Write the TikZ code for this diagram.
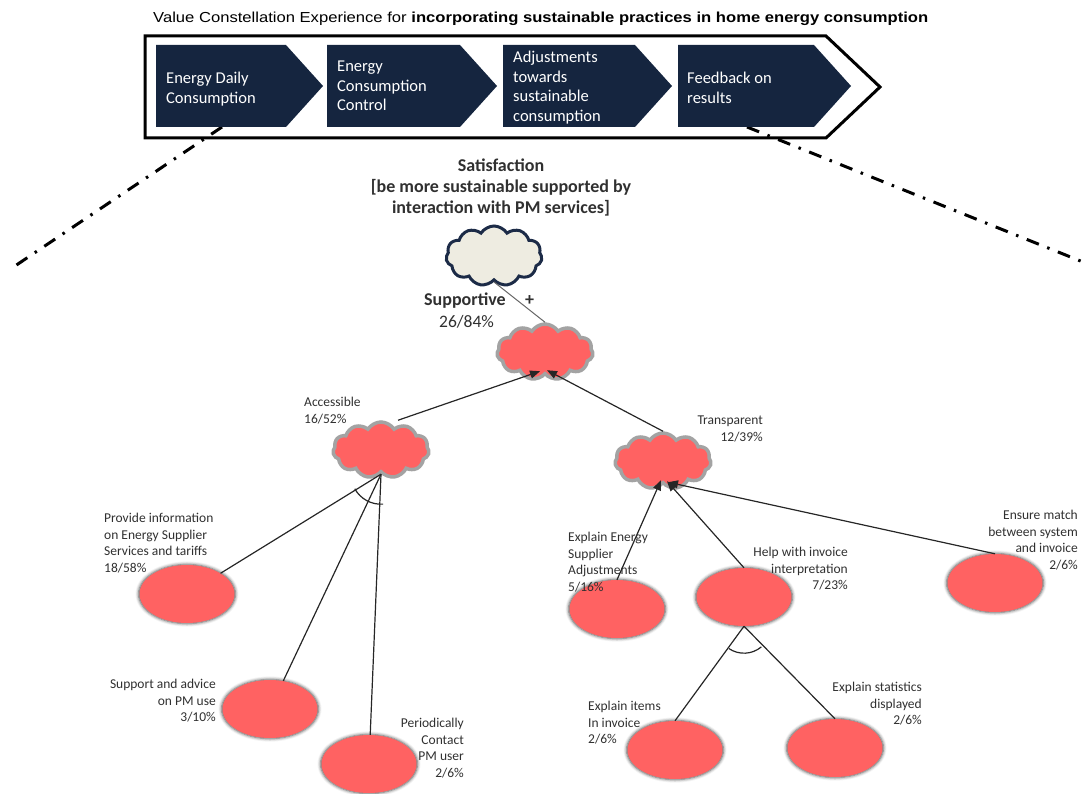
\documentclass[tikz,border=0pt]{standalone}
\usepackage{fontspec}
\setmainfont{Carlito}
\newfontfamily\hdrfont{Liberation Sans}
\usetikzlibrary{shapes.symbols,shapes.geometric,arrows.meta,shadows.blur}

\definecolor{navy}{HTML}{15253F}
\definecolor{redfill}{HTML}{FF6262}
\definecolor{cream}{HTML}{EEECE1}
\definecolor{creamedge}{HTML}{1C2B47}
\definecolor{puffedge}{HTML}{A3A3A3}
\definecolor{lbltext}{HTML}{303030}
\definecolor{conncol}{HTML}{262626}

\begin{document}
\begin{tikzpicture}[x=1pt,y=-1pt,
  chev/.style={fill=navy},
  chevtext/.style={anchor=north west, inner sep=0pt, text=white, align=left,
    font=\fontsize{16.5}{19.5}\selectfont},
  frame/.style={draw=black, line width=3pt, line join=miter},
  dashdot/.style={line width=3pt, dash pattern=on 13pt off 9pt on 2.5pt off 9pt},
  redpuff/.style={cloud, cloud puffs=11, cloud puff arc=115, aspect=1.7,
    minimum width=96pt, minimum height=56pt, inner sep=0pt,
    fill=redfill, draw=puffedge, line width=3.5pt},
  creampuff/.style={cloud, cloud puffs=11, cloud puff arc=115, aspect=1.6,
    minimum width=96pt, minimum height=60pt, inner sep=0pt,
    fill=cream, draw=creamedge, line width=3pt},
  leaf/.style={ellipse, minimum width=95pt, minimum height=58pt, inner sep=0pt,
    fill=redfill, blur shadow={shadow xshift=0pt, shadow yshift=0pt,
      shadow blur radius=3pt, shadow opacity=70, shadow scale=1.02}},
  lbl/.style={inner sep=0pt, text=lbltext, font=\fontsize{13.5}{16.5}\selectfont},
  lblL/.style={lbl, anchor=north west, align=left},
  lblR/.style={lbl, anchor=north east, align=right},
  conn/.style={draw=conncol, line width=1.2pt},
  arr/.style={conn, -{Triangle[length=10pt,width=8pt]}},
]
\useasboundingbox (0,0) rectangle (1085,794);

% heading
\node[anchor=base west, inner sep=0pt] (title) at (153,23)
  {\resizebox{775pt}{10.5pt}{\hdrfont Value Constellation Experience for
   \textbf{incorporating sustainable practices in home energy consumption}}};

% zoom guides from the journey bar
\draw[dashdot] (222,127) -- (12,268);
\draw[dashdot] (747,127) -- (1083,262);

% journey bar
\draw[frame] (145,36) -- (826,36) -- (880,87) -- (826,138) -- (145,138) -- cycle;
\fill[chev] (156,45) -- (286,45) -- (323,86) -- (286,127) -- (156,127) -- cycle;
\fill[chev] (327,45) -- (460,45) -- (497,86) -- (460,127) -- (327,127) -- cycle;
\fill[chev] (503,45) -- (635,45) -- (672,86) -- (635,127) -- (503,127) -- cycle;
\fill[chev] (678,45) -- (814,45) -- (851,86) -- (814,127) -- (678,127) -- cycle;
\node[chevtext] (s1) at (166,72) {Energy Daily\\Consumption};
\node[chevtext] (s2) at (337,61) {Energy\\Consumption\\Control};
\node[chevtext] (s3) at (513,51) {Adjustments\\towards\\sustainable\\consumption};
\node[chevtext] (s4) at (687,72) {Feedback on\\results};

% goal
\node[anchor=north, inner sep=0pt, align=center,
  font=\bfseries\fontsize{18}{21}\selectfont, text=lbltext] (goal) at (501,159)
  {Satisfaction\\{[}be more sustainable supported by\\interaction with PM services{]}};
\node[creampuff] (sat) at (494,256) {};

% value clouds
\node[redpuff] (sup) at (545,352) {};
\node[redpuff] (acc) at (381,450) {};
\node[redpuff] (trn) at (663,461) {};

\node[anchor=base west, inner sep=0pt, font=\bfseries\fontsize{18}{21}\selectfont,
  text=lbltext] (supT) at (424,306) {Supportive};
\node[anchor=base west, inner sep=0pt, font=\bfseries\fontsize{18}{21}\selectfont,
  text=lbltext] (plus) at (525,306) {+};
\node[anchor=base west, inner sep=0pt, font=\fontsize{17.5}{21}\selectfont,
  text=lbltext] (supP) at (439,328) {26/84\%};

\node[lblL] (accT) at (304,397) {Accessible\\16/52\%};
\node[lblR] (trnT) at (763,416) {Transparent\\12/39\%};

% leaves
\node[leaf] (prov) at (187,594) {};
\node[leaf] (adv) at (270,709) {};
\node[leaf] (cont) at (369,764) {};
\node[leaf] (expE) at (617,609) {};
\node[leaf] (help) at (744,597) {};
\node[leaf] (match) at (995,583) {};
\node[leaf] (items) at (675,750) {};
\node[leaf] (stats) at (835,748) {};

\node[lblL] (provT) at (104,513) {Provide information\\on Energy Supplier\\Services and tariffs\\18/58\%};
\node[lblR] (advT) at (216,679) {Support and advice\\on PM use\\3/10\%};
\node[lblR] (contT) at (464,718) {Periodically\\Contact\\PM user\\2/6\%};
\node[lblL] (expET) at (568,532) {Explain Energy\\Supplier\\Adjustments\\5/16\%};
\node[lblR] (helpT) at (848,547) {Help with invoice\\interpretation\\7/23\%};
\node[lblR] (matchT) at (1078,510) {Ensure match\\between system\\and invoice\\2/6\%};
\node[lblL] (itemsT) at (588,701) {Explain items\\In invoice\\2/6\%};
\node[lblR] (statsT) at (922,682) {Explain statistics\\displayed\\2/6\%};

% connectors
\draw[conn, draw=gray!80!black, line width=1pt] (sat.south) -- (sup.north);
\draw[arr] ([xshift=17pt]acc.north) -- ([xshift=-5pt,yshift=5pt]sup.south);
\draw[arr] (trn.north) -- ([xshift=2pt,yshift=6pt]sup.south);

\draw[conn] (acc.south) -- (prov);
\draw[conn] (acc.south) -- (adv);
\draw[conn] (acc.south) -- (cont);
\draw[conn] (acc.south) ++(151:30) arc[start angle=151, end angle=86, radius=30];

\draw[arr] (expE.north) -- ([xshift=-2pt,yshift=5pt]trn.south);
\draw[arr] (help.north) -- ([xshift=4pt,yshift=4pt]trn.south);
\draw[arr] (match.north) -- ([xshift=5pt,yshift=3pt]trn.south);

\draw[conn] (help.south) -- (items.north);
\draw[conn] (help.south) -- (stats.north);
\draw[conn] (help.south) ++(124:27) arc[start angle=124, end angle=50, radius=27];
\end{tikzpicture}
\end{document}
